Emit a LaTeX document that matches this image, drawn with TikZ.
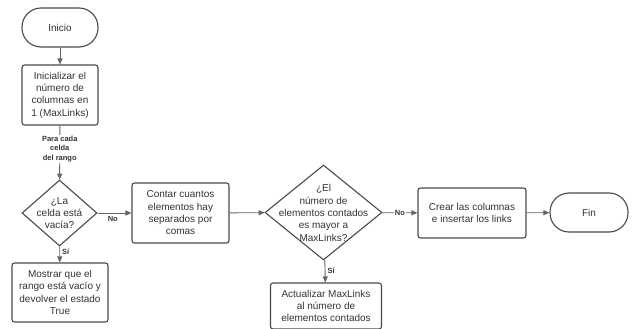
\documentclass[tikz,border=0pt]{standalone}
\usepackage{fontspec}
\setmainfont{Liberation Sans}
\usetikzlibrary{shapes.geometric,arrows.meta}
\definecolor{ln}{HTML}{4A4A4A}
\definecolor{tx}{HTML}{333333}
\begin{document}
\begin{tikzpicture}[x=1pt,y=-1pt,
  base/.style={draw=ln,line width=1.1pt,text=tx,font=\fontsize{10}{12.3}\selectfont,align=center,inner sep=0pt},
  procbox/.style={base,rectangle,rounded corners=2.5pt},
  term/.style={base,rectangle,rounded corners=19pt},
  dec/.style={base,diamond,aspect=1},
  conn/.style={draw=ln!85,line width=0.9pt,-{Triangle[length=6pt,width=5pt]}},
  lbl/.style={font=\fontsize{7.5}{9.5}\selectfont\bfseries,text=tx,fill=white,inner sep=1pt,align=center}]
\useasboundingbox (0,0) rectangle (638,329);
\node[term,minimum width=76pt,minimum height=39pt] (ini) at (60,27.5) {Inicio};
\node[procbox,minimum width=76pt,minimum height=60pt] (b1) at (60,95) {Inicializar el\\número de\\columnas en\\1 (MaxLinks)};
\node[dec,minimum width=75pt,minimum height=66pt] (d1) at (59.5,213) {};
\node[text=tx,font=\fontsize{10}{12.3}\selectfont,align=center] at (59.5,213) {¿La\\celda está\\vacía?};
\node[procbox,minimum width=96pt,minimum height=59pt] (b2) at (60,292.5) {Mostrar que el\\rango está vacío y\\devolver el estado\\True};
\node[procbox,minimum width=97pt,minimum height=60pt] (b3) at (180.5,213) {Contar cuantos\\elementos hay\\separados por\\comas};
\node[dec,minimum width=117pt,minimum height=95pt] (d2) at (323.5,212.5) {};
\node[text=tx,font=\fontsize{10}{12.3}\selectfont,align=center] at (323.5,213) {¿El\\número de\\elementos contados\\es mayor a\\MaxLinks?};
\node[procbox,minimum width=111pt,minimum height=46pt] (b4) at (326,306) {Actualizar MaxLinks\\al número de\\elementos contados};
\node[procbox,minimum width=108pt,minimum height=50pt] (b5) at (472,213) {Crear las columnas\\e insertar los links};
\node[term,minimum width=78pt,minimum height=39pt] (fin) at (589,212.5) {Fin};
\draw[conn] (ini) -- (b1);
\draw[conn] (b1) -- node[lbl,pos=0.43] {Para cada\\celda\\del rango} (d1);
\draw[conn] (d1) -- node[lbl,pos=0.35,right=1pt,fill=none] {Sí} (b2);
\draw[conn] (d1) -- node[lbl,pos=0.45,below=2pt,fill=none] {No} (b3);
\draw[conn] (b3) -- (d2);
\draw[conn] (d2) -- node[lbl,pos=0.5,right=1pt,fill=none] {Sí} (b4);
\draw[conn] (d2) -- node[lbl,pos=0.5] {No} (b5);
\draw[conn] (b5) -- (fin);
\end{tikzpicture}
\end{document}
